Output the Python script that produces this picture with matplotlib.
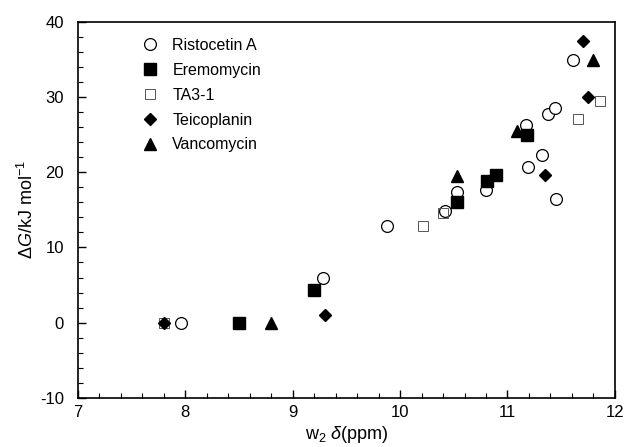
import matplotlib.pyplot as plt
from matplotlib.ticker import MultipleLocator

plt.rcParams['font.family'] = ['Liberation Sans', 'DejaVu Sans']
plt.rcParams['mathtext.fontset'] = 'custom'
plt.rcParams['mathtext.rm'] = 'Liberation Sans'
plt.rcParams['mathtext.it'] = 'Liberation Sans:italic'
plt.rcParams['axes.unicode_minus'] = False

# Datos (w2 delta en ppm, Delta G en kJ/mol)
ris_x = [7.96, 9.28, 9.88, 10.42, 10.53, 10.80, 11.17, 11.19, 11.32, 11.38, 11.44, 11.45, 11.61]
ris_y = [0.0, 6.0, 12.8, 14.9, 17.4, 17.7, 26.3, 20.7, 22.3, 27.8, 28.6, 16.5, 34.9]

ere_x = [8.50, 9.20, 10.53, 10.81, 10.89, 11.18]
ere_y = [0.0, 4.4, 16.0, 18.9, 19.6, 24.9]

ta3_x = [7.80, 10.21, 10.40, 11.66, 11.86]
ta3_y = [0.0, 12.8, 14.6, 27.1, 29.5]

tei_x = [7.80, 9.30, 11.35, 11.75, 11.70]
tei_y = [0.0, 1.0, 19.6, 30.0, 37.5]

van_x = [8.80, 10.53, 11.09, 11.80]
van_y = [0.0, 19.5, 25.5, 34.9]

fig = plt.figure(figsize=(6.32, 4.47), dpi=100)
ax = fig.add_axes([0.123, 0.110, 0.850, 0.841])

ax.plot(ris_x, ris_y, 'o', ms=8.5, mfc='white', mec='black', mew=0.9, ls='none', label='Ristocetin A')
ax.plot(ere_x, ere_y, 's', ms=8, mfc='black', mec='black', ls='none', label='Eremomycin')
ax.plot(ta3_x, ta3_y, 's', ms=7, mfc='none', mec='#555555', mew=0.7, ls='none', label='TA3-1')
ax.plot(tei_x, tei_y, 'D', ms=6, mfc='black', mec='black', ls='none', label='Teicoplanin')
ax.plot(van_x, van_y, '^', ms=8, mfc='black', mec='black', ls='none', label='Vancomycin')

ax.set_xlim(7, 12)
ax.set_ylim(-10, 40)
ax.xaxis.set_major_locator(MultipleLocator(1))
ax.xaxis.set_minor_locator(MultipleLocator(0.2))
ax.yaxis.set_major_locator(MultipleLocator(10))
ax.yaxis.set_minor_locator(MultipleLocator(2))
ax.tick_params(which='both', direction='in', top=False, right=False, labelsize=12)
ax.tick_params(which='major', length=6, width=1)
ax.tick_params(which='minor', length=3.5, width=0.8)
ax.tick_params(axis='x', which='major', pad=5)
ax.tick_params(axis='y', which='major', pad=10)
for s in ax.spines.values():
    s.set_linewidth(1.2)

ax.set_xlabel(r'w$_2$ $\mathit{\delta}$(ppm)', fontsize=13, labelpad=3)
ax.set_ylabel(r'$\Delta\mathit{G}$/kJ mol$^{-1}$', fontsize=13, labelpad=2)

ax.legend(loc='upper left', frameon=False, fontsize=11.5, handletextpad=0.4,
          labelspacing=0.62, borderaxespad=0.6, bbox_to_anchor=(0.075, 1.0))

plt.savefig('out.png', dpi=100)
